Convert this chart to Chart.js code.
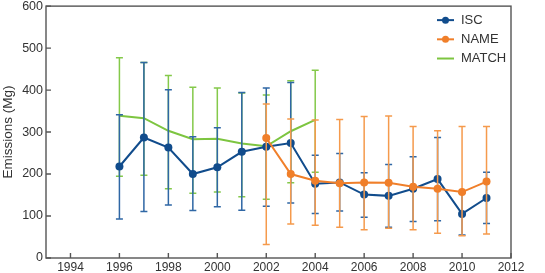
<!DOCTYPE html>
<html>
<head>
<meta charset="utf-8">
<script src="https://cdn.jsdelivr.net/npm/chart.js@4.4.1/dist/chart.umd.min.js"></script>
<style>
html, body { margin: 0; padding: 0; background: #fff; }
</style>
</head>
<body>
<canvas id="emChart" width="545" height="273"></canvas>
<script>
// data
const iscYears  = [1996, 1997, 1998, 1999, 2000, 2001, 2002, 2003, 2004, 2005, 2006, 2007, 2008, 2009, 2010, 2011];
const iscValues = [218, 287, 263, 200, 216, 253, 265, 274, 177, 180, 151, 148, 165, 188, 105, 143];
const iscLow    = [93, 111, 126, 113, 122, 114, 123, 131, 106, 112, 97, 73, 87, 89, 55, 82];
const iscHigh   = [341, 466, 401, 289, 310, 394, 405, 418, 245, 249, 203, 223, 241, 287, 155, 204];

const nameYears  = [2002, 2003, 2004, 2005, 2006, 2007, 2008, 2009, 2010, 2011];
const nameValues = [286, 200, 184, 178, 180, 179, 170, 165, 157, 182];
const nameLow    = [32, 81, 78, 73, 67, 71, 67, 59, 53, 57];
const nameHigh   = [367, 331, 329, 330, 337, 338, 313, 303, 313, 313];

const matchYears  = [1996, 1997, 1998, 1999, 2000, 2001, 2002, 2003, 2004];
const matchValues = [339, 333, 303, 283, 284, 273, 266, 302, 329];
const matchLow    = [195, 197, 165, 154, 157, 146, 140, 179, 204];
const matchHigh   = [477, 466, 435, 407, 405, 393, 388, 422, 447];

const xTicks = [1994, 1996, 1998, 2000, 2002, 2004, 2006, 2008, 2010, 2012];
const yTicks = [0, 100, 200, 300, 400, 500, 600];

const seriesNames = ['ISC', 'NAME', 'MATCH'];
const FONT = "'Liberation Sans', Arial, sans-serif";

const toPoints = (xs, ys) => xs.map((x, i) => ({ x: x, y: ys[i] }));

// vertical error bars with caps, drawn just under each dataset
const errorBarPlugin = {
    id: 'errorBars',
    beforeDatasetDraw(chart, args) {
        const ds = chart.data.datasets[args.index];
        if (!ds.errLow) return;
        const ctx = chart.ctx;
        const xs = chart.scales.x, ys = chart.scales.y;
        ctx.save();
        ctx.strokeStyle = ds.errColor;
        ctx.lineWidth = 1.5;
        ds.data.forEach((p, i) => {
            const x = xs.getPixelForValue(p.x);
            const yl = ys.getPixelForValue(ds.errLow[i]);
            const yh = ys.getPixelForValue(ds.errHigh[i]);
            ctx.beginPath();
            ctx.moveTo(x, yh); ctx.lineTo(x, yl);
            ctx.moveTo(x - 3.5, yh); ctx.lineTo(x + 3.5, yh);
            ctx.moveTo(x - 3.5, yl); ctx.lineTo(x + 3.5, yl);
            ctx.stroke();
        });
        ctx.restore();
    }
};

// box frame, inward ticks and the legend inside the plot
const framePlugin = {
    id: 'frame',
    afterDraw(chart) {
        const ctx = chart.ctx;
        const a = chart.chartArea;
        const xs = chart.scales.x, ys = chart.scales.y;
        ctx.save();
        ctx.strokeStyle = '#555';
        ctx.lineWidth = 1.4;
        ctx.strokeRect(a.left, a.top, a.right - a.left, a.bottom - a.top);
        ctx.beginPath();
        xTicks.forEach(v => {
            const x = xs.getPixelForValue(v);
            ctx.moveTo(x, a.bottom); ctx.lineTo(x, a.bottom - 5);
        });
        yTicks.forEach(v => {
            const y = ys.getPixelForValue(v);
            ctx.moveTo(a.left, y); ctx.lineTo(a.left + 5, y);
        });
        ctx.stroke();

        // legend
        ctx.font = '13px ' + FONT;
        ctx.textBaseline = 'middle';
        ctx.textAlign = 'left';
        chart.data.datasets.forEach((ds, i) => {
            const y = a.top + 14 + i * 19.2;
            const x0 = a.right - 74;
            ctx.strokeStyle = ds.borderColor;
            ctx.lineWidth = 2;
            ctx.beginPath();
            ctx.moveTo(x0, y); ctx.lineTo(x0 + 17, y);
            ctx.stroke();
            if (ds.pointRadius > 0) {
                ctx.fillStyle = ds.borderColor;
                ctx.beginPath();
                ctx.arc(x0 + 8.5, y, 3.5, 0, Math.PI * 2);
                ctx.fill();
            }
            ctx.fillStyle = '#333';
            ctx.fillText(seriesNames[i], x0 + 24, y);
        });
        ctx.restore();
    }
};

const ctx = document.getElementById('emChart').getContext('2d');
const chart = new Chart(ctx, {
    type: 'line',
    data: {
        datasets: [
            {
                label: seriesNames[0],
                data: toPoints(iscYears, iscValues),
                errLow: iscLow, errHigh: iscHigh, errColor: '#2f67a5',
                borderColor: '#114c8c', backgroundColor: '#114c8c',
                borderWidth: 2, pointRadius: 4, pointBorderWidth: 0,
                tension: 0, order: 2
            },
            {
                label: seriesNames[1],
                data: toPoints(nameYears, nameValues),
                errLow: nameLow, errHigh: nameHigh, errColor: '#f59a4c',
                borderColor: '#f07f2a', backgroundColor: '#f07f2a',
                borderWidth: 2, pointRadius: 4, pointBorderWidth: 0,
                tension: 0, order: 1
            },
            {
                label: seriesNames[2],
                data: toPoints(matchYears, matchValues),
                errLow: matchLow, errHigh: matchHigh, errColor: '#84c94a',
                borderColor: '#7dc540', backgroundColor: '#7dc540',
                borderWidth: 2, pointRadius: 0,
                tension: 0, order: 3
            }
        ]
    },
    options: {
        responsive: false,
        animation: false,
        devicePixelRatio: 1,
        layout: { padding: { top: 0, right: 34, left: 0, bottom: 0 } },
        plugins: {
            legend: { display: false },
            tooltip: { enabled: false }
        },
        scales: {
            x: {
                type: 'linear',
                min: 1993,
                max: 2012,
                afterBuildTicks: s => { s.ticks = xTicks.map(v => ({ value: v })); },
                afterFit: s => { s.height = 15; },
                grid: { display: false, drawTicks: false },
                border: { display: false },
                ticks: {
                    callback: v => String(v),
                    color: '#333',
                    font: { family: FONT, size: 12 },
                    padding: 2,
                    maxRotation: 0,
                    autoSkip: false
                }
            },
            y: {
                min: 0,
                max: 600,
                afterBuildTicks: s => { s.ticks = yTicks.map(v => ({ value: v })); },
                afterFit: s => { s.width = 46; },
                grid: { display: false, drawTicks: false },
                border: { display: false },
                ticks: {
                    color: '#333',
                    font: { family: FONT, size: 12.5, lineHeight: 0.5 },
                    padding: 3
                },
                title: {
                    display: true,
                    text: 'Emissions (Mg)',
                    color: '#333',
                    font: { family: FONT, size: 13.5 },
                    padding: { top: 0, bottom: 0 }
                }
            }
        }
    },
    plugins: [errorBarPlugin, framePlugin]
});
</script>
</body>
</html>
